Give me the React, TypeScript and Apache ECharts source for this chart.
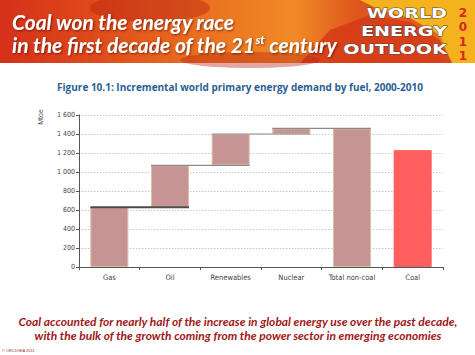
import React, { useEffect, useRef } from "react";
import * as echarts from "echarts";

const categories = ["Gas", "Oil", "Renewables", "Nuclear", "Total non-coal", "Coal"];
const increments = [630, 440, 330, 60];
const totalNonCoal = 1460;
const coal = 1230;
const yTicks = { min: 0, max: 1600, interval: 200 };

export default function App() {
  const ref = useRef<HTMLDivElement>(null);
  useEffect(() => {
    if (!ref.current) return;
    const chart = echarts.init(ref.current, undefined, { renderer: "svg" });

    const bases: number[] = [];
    const tops: number[] = [];
    let cum = 0;
    increments.forEach((v) => {
      bases.push(cum);
      cum += v;
      tops.push(cum);
    });
    const baseData = [...bases, 0, 0];
    const valueData = [...increments, totalNonCoal, coal].map((v, i) =>
      i === 5
        ? { value: v, itemStyle: { color: "#ff5f5f", borderColor: "#ff5f5f" } }
        : v
    );
    const connectors = tops.map((t, i) => [i, t, i + 1]);

    const half = 19;
    const shadow = {
      textShadowColor: "rgba(60,0,0,0.6)",
      textShadowBlur: 2,
      textShadowOffsetX: 1,
      textShadowOffsetY: 1,
    };
    chart.setOption({
      animation: false,
      grid: { left: 79, right: 32, top: 115, bottom: 88 },
      xAxis: {
        type: "category",
        data: categories,
        axisLine: { lineStyle: { color: "#555", width: 1 } },
        axisTick: { show: true, length: 3, lineStyle: { color: "#555" } },
        axisLabel: {
          interval: 0,
          fontSize: 7.5,
          color: "#444",
          fontFamily: "Liberation Sans Narrow, DejaVu Sans Condensed, sans-serif",
          margin: 6,
        },
      },
      yAxis: {
        type: "value",
        min: yTicks.min,
        max: yTicks.max,
        interval: yTicks.interval,
        axisLine: { show: true, lineStyle: { color: "#555", width: 1 } },
        axisTick: { show: true, length: 3, lineStyle: { color: "#555" } },
        axisLabel: {
          fontSize: 7,
          color: "#444",
          margin: 4,
          fontFamily: "Liberation Sans Narrow, DejaVu Sans Condensed, sans-serif",
          formatter: (v: number) => String(v).replace(/\B(?=(\d{3})+(?!\d))/g, " "),
        },
        splitLine: { lineStyle: { color: "#c8c8c8", type: [1.5, 1.5], width: 1 } },
      },
      series: [
        {
          type: "bar",
          stack: "w",
          data: baseData,
          barWidth: 38,
          itemStyle: { color: "transparent", borderColor: "transparent" },
          silent: true,
        },
        {
          type: "bar",
          stack: "w",
          data: valueData,
          barWidth: 38,
          itemStyle: { color: "#c69494", borderColor: "#d9c09e", borderWidth: 1 },
        },
        {
          type: "custom",
          data: connectors,
          encode: { x: 0, y: 1 },
          z: 5,
          renderItem: (params: any, api: any) => {
            const p1 = api.coord([api.value(0), api.value(1)]);
            const p2 = api.coord([api.value(2), api.value(1)]);
            const first = params.dataIndex === 0;
            return {
              type: "line",
              shape: { x1: p1[0] - half, y1: p1[1], x2: p2[0] + half, y2: p2[1] },
              style: { stroke: first ? "#4a4a4a" : "#8a8a8a", lineWidth: first ? 2 : 1.2 },
            };
          },
        },
      ],
      graphic: [
        {
          type: "rect",
          shape: { x: 0, y: 0, width: 475, height: 63 },
          style: {
            fill: new echarts.graphic.LinearGradient(0, 0, 1, 0, [
              { offset: 0, color: "#d5301a" },
              { offset: 0.2, color: "#df4a1a" },
              { offset: 0.45, color: "#ec7420" },
              { offset: 0.62, color: "#f08a26" },
              { offset: 0.75, color: "#de561c" },
              { offset: 0.9, color: "#e4581e" },
              { offset: 1, color: "#f5c21c" },
            ]),
          },
          z: 0,
        },
        {
          type: "polygon",
          shape: { points: [[360, 0], [475, 0], [475, 63], [452, 63], [440, 35], [410, 18], [380, 10]] },
          style: { fill: "#f3b21e" },
          z: 1,
        },
        {
          type: "polygon",
          shape: { points: [[300, 63], [330, 30], [370, 15], [410, 22], [440, 40], [452, 63]] },
          style: { fill: "#d63a18", opacity: 0.85 },
          z: 1,
        },
        {
          type: "ellipse",
          shape: { cx: 150, cy: 8, rx: 60, ry: 14 },
          style: { fill: "#b72414", opacity: 0.45 },
          z: 1,
        },
        {
          type: "ellipse",
          shape: { cx: 250, cy: 60, rx: 70, ry: 8 },
          style: { fill: "#b72414", opacity: 0.4 },
          z: 1,
        },
        {
          type: "text",
          x: 12,
          y: 21,
          style: {
            text: "Coal won the energy race",
            fill: "#ffffff",
            font: "italic bold 21px Lato, sans-serif",
            textVerticalAlign: "middle",
            ...shadow,
          },
          z: 3,
        },
        {
          type: "text",
          x: 12,
          y: 44,
          style: {
            text: "in the first decade of the 21{sup|st} century",
            rich: {
              sup: {
                fontSize: 12,
                fontStyle: "italic",
                fontWeight: "bold",
                fontFamily: "Lato, sans-serif",
                verticalAlign: "top",
                padding: [0, 0, 8, 0],
                fill: "#fff",
                ...shadow,
              } as any,
            },
            fill: "#ffffff",
            font: "italic bold 21px Lato, sans-serif",
            textVerticalAlign: "middle",
            ...shadow,
          },
          z: 3,
        },
        ...[
          { t: "WORLD", y: 14 },
          { t: "ENERGY", y: 32 },
          { t: "OUTLOOK", y: 50 },
        ].map((w) => ({
          type: "text",
          x: 447,
          y: w.y,
          scaleX: 1.42,
          originX: 0,
          originY: 0,
          style: {
            text: w.t,
            fill: "#ffffff",
            stroke: "#5a4a40",
            lineWidth: 0.9,
            fontSize: 13.5,
            fontWeight: "bold",
            fontFamily: "'DejaVu Sans', sans-serif",
            textAlign: "right",
            textVerticalAlign: "middle",
          },
          z: 3,
        })),
        ...["2", "0", "1", "1"].map((d, i) => ({
          type: "text",
          x: 463,
          y: 13 + i * 14.3,
          style: {
            text: d,
            fill: "#d8281e",
            fontSize: 12,
            fontWeight: "bold",
            fontFamily: "'DejaVu Sans', sans-serif",
            textAlign: "center",
            textVerticalAlign: "middle",
          },
          z: 3,
        })),
        {
          type: "text",
          x: 240,
          y: 87,
          style: {
            text: "Figure 10.1: Incremental world primary energy demand by fuel, 2000-2010",
            fill: "#2a5f95",
            font: "bold 10px 'Open Sans', sans-serif",
            textAlign: "center",
            textVerticalAlign: "middle",
          },
        },
        {
          type: "text",
          x: 40,
          y: 117,
          rotation: Math.PI / 2,
          style: {
            text: "Mtoe",
            fill: "#555",
            font: "7px 'Liberation Sans Narrow', sans-serif",
            textAlign: "center",
            textVerticalAlign: "middle",
          },
        },
        {
          type: "text",
          x: 238,
          y: 321,
          style: {
            text: "Coal accounted for nearly half of the increase in global energy use over the past decade,",
            fill: "#a01818",
            font: "italic bold 12px Lato, sans-serif",
            textAlign: "center",
            textVerticalAlign: "middle",
          },
        },
        {
          type: "text",
          x: 238,
          y: 335,
          style: {
            text: "with the bulk of the growth coming from the power sector in emerging economies",
            fill: "#a01818",
            font: "italic bold 12px Lato, sans-serif",
            textAlign: "center",
            textVerticalAlign: "middle",
          },
        },
        {
          type: "text",
          x: 2,
          y: 350,
          style: {
            text: "© OECD/IEA 2011",
            fill: "#a03030",
            font: "4px sans-serif",
            textVerticalAlign: "middle",
          },
        },
      ],
    });
    return () => chart.dispose();
  }, []);
  return (
    <div
      ref={ref}
      style={{ position: "fixed", left: 0, top: 0, width: 475, height: 355, background: "#fff" }}
    />
  );
}
